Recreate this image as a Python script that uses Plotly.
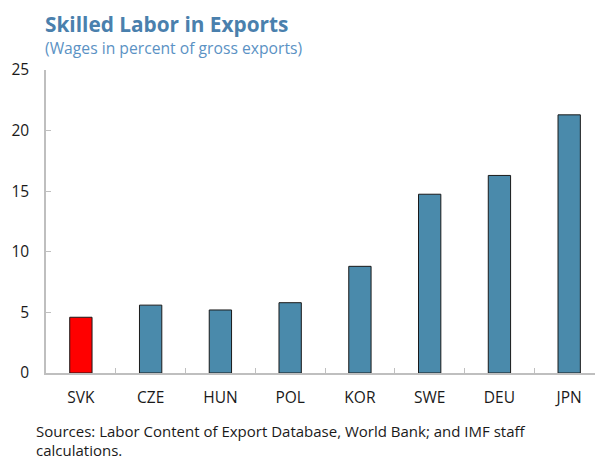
import plotly.graph_objects as go

countries = ["SVK", "CZE", "HUN", "POL", "KOR", "SWE", "DEU", "JPN"]
skilled_wages = [4.6, 5.6, 5.2, 5.8, 8.8, 14.75, 16.3, 21.3]
bar_colors = ["#ff0000"] + ["#4a8aab"] * 7

title_text = "Skilled Labor in Exports"
subtitle_text = "(Wages in percent of gross exports)"
source_lines = [
    "Sources: Labor Content of Export Database, World Bank; and IMF staff",
    "calculations.",
]

FONT = "Open Sans"
AXIS_GREY = "#bfbfbf"
TEXT = "#1a1a1a"

fig = go.Figure(
    go.Bar(
        x=countries,
        y=skilled_wages,
        width=0.32,
        marker=dict(color=bar_colors, line=dict(color=TEXT, width=1)),
    )
)

fig.update_layout(
    width=595,
    height=460,
    margin=dict(l=46, r=0, t=69.5, b=87),
    paper_bgcolor="white",
    plot_bgcolor="white",
    showlegend=False,
    font=dict(family=FONT, size=15, color=TEXT),
)

fig.update_xaxes(
    type="category",
    range=[-0.5, 7.37],
    showline=True,
    linecolor=AXIS_GREY,
    linewidth=1.5,
    ticks="inside",
    tickson="boundaries",
    ticklen=5,
    tickcolor=AXIS_GREY,
    showgrid=False,
    ticklabelstandoff=10,
    tickfont=dict(family=FONT, size=15.5, color=TEXT),
)

fig.update_yaxes(
    range=[0, 25],
    tickvals=[0, 5, 10, 15, 20, 25],
    showline=True,
    linecolor=AXIS_GREY,
    linewidth=1.5,
    ticks="inside",
    ticklen=5,
    tickcolor=AXIS_GREY,
    showgrid=False,
    zeroline=False,
    ticklabelstandoff=12,
    tickfont=dict(family=FONT, size=15.5, color=TEXT),
)

fig.add_annotation(
    text=f"<b>{title_text}</b>",
    xref="paper", yref="paper", x=0, y=1,
    xanchor="left", yanchor="middle", xshift=-3, yshift=46,
    showarrow=False,
    font=dict(family=FONT, size=20.8, color="#4a80ad"),
)
fig.add_annotation(
    text=subtitle_text,
    xref="paper", yref="paper", x=0, y=1,
    xanchor="left", yanchor="middle", xshift=-3, yshift=22,
    showarrow=False,
    font=dict(family=FONT, size=15.7, color="#5b92c4"),
)
for i, line in enumerate(source_lines):
    fig.add_annotation(
        text=line,
        xref="paper", yref="paper", x=0, y=0,
        xanchor="left", yanchor="middle", xshift=-12, yshift=-58 - 19 * i,
        showarrow=False,
        font=dict(family=FONT, size=15, color=TEXT),
    )

fig.write_html("out.html")
